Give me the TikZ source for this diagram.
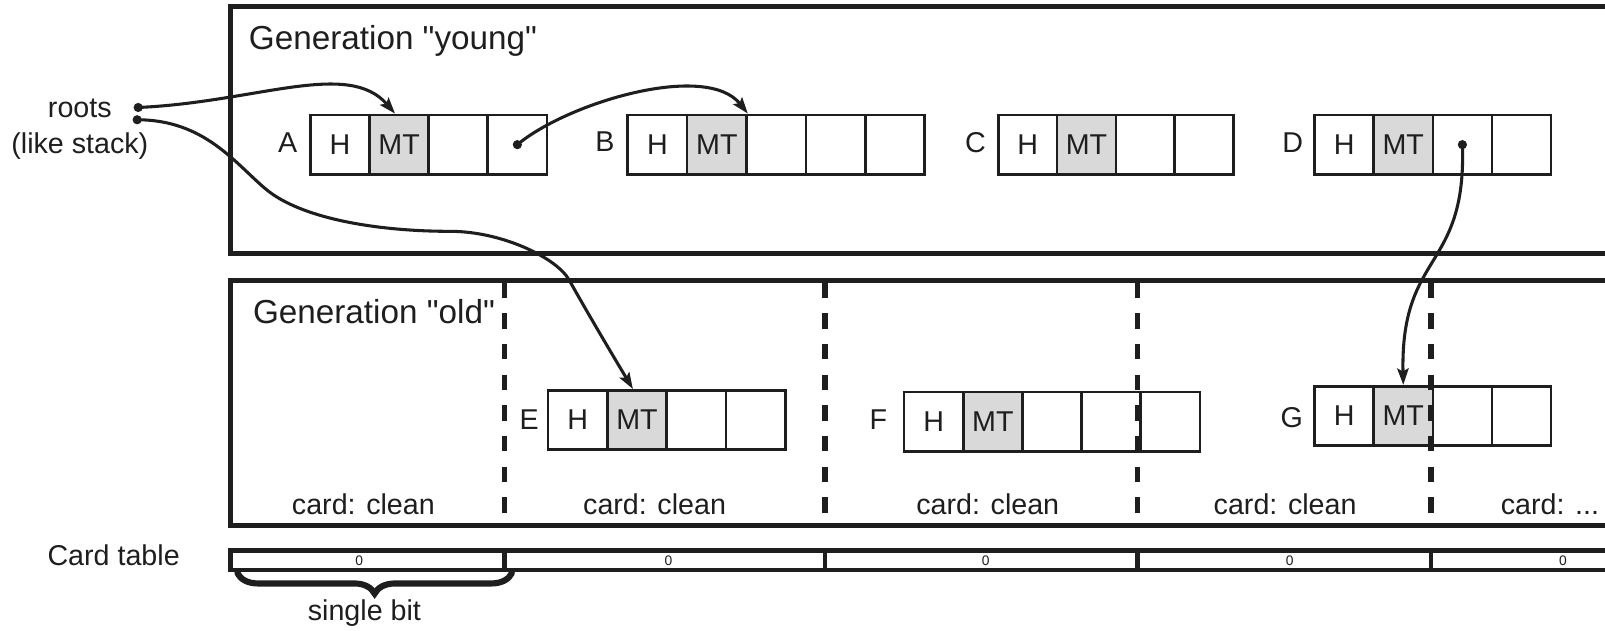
\documentclass[tikz,border=0pt]{standalone}
\usepackage{fontspec}
\setmainfont{Liberation Sans}[Ligatures=TeXOff]
\usetikzlibrary{arrows.meta,decorations.pathreplacing,calc}
\definecolor{ink}{HTML}{1E1E1E}
\definecolor{mtgray}{HTML}{D9D9D9}

% one heap object: name, left x, top y, cell width, number of cells
\newcommand\heapobject[5]{%
  \foreach \i in {1,...,#5}{%
    \ifnum\i=1 \def\celltxt{H}\def\cellsty{cell}%
    \else\ifnum\i=2 \def\celltxt{MT}\def\cellsty{mtcell}%
    \else\def\celltxt{}\def\cellsty{cell}\fi\fi
    \node[\cellsty, minimum width=#4] (#1\i) at ({#2+(\i-1)*#4},#3) {\celltxt};
  }%
}

\begin{document}
\begin{tikzpicture}[x=1pt,y=-1pt,
  every node/.style={text=ink, inner sep=0pt},
  body/.style={font=\fontsize{28}{32}\selectfont},
  title/.style={font=\fontsize{32.5}{38}\selectfont, anchor=base west},
  genframe/.style={draw=ink, line width=5pt},
  cell/.style={draw=ink, line width=2.6pt, fill=white, minimum height=58pt,
    anchor=north west, inner sep=0pt, body},
  mtcell/.style={cell, fill=mtgray},
  objlabel/.style={body, anchor=base},
  cardedge/.style={draw=ink, line width=5pt, dash pattern=on 15pt off 15pt},
  tablerule/.style={draw=ink, line width=4.5pt},
  ptr/.style={draw=ink, line width=3pt, -{Stealth[length=16pt,width=11pt,inset=3pt]}},
  dotmark/.style={fill=ink, circle, minimum size=9pt, inner sep=0pt},
]
\useasboundingbox (0,0) rectangle (1568,616);

% generation frames (open to the right)
\draw[genframe] (225,6) rectangle (1572,248);
\draw[genframe] (225,274) rectangle (1572,513);

\node[title] (young) at (243,48) {Generation "young"};
\node[title] (old) at (247,316) {Generation "old"};

% roots
\node[body, anchor=base] (roots) at (78,115) {roots};
\node[body, anchor=base] (stack) at (78,150) {(like stack)};
\node[dotmark] (r1) at (135,105) {};
\node[dotmark] (r2) at (134,117) {};

% young objects
\heapobject{A}{302}{111}{57.75}{4}
\heapobject{B}{612}{111}{58}{5}
\heapobject{C}{974}{111}{57.4}{4}
\heapobject{D}{1283}{111}{57.75}{4}
\node[objlabel] (Alab) at (281,148.5) {A};
\node[objlabel] (Blab) at (591,148) {B};
\node[objlabel] (Clab) at (953,148.5) {C};
\node[objlabel] (Dlab) at (1263,149) {D};

% old objects
\heapobject{E}{534}{380}{58}{4}
\heapobject{F}{882}{381.5}{57.8}{5}
\heapobject{G}{1283}{376}{57.75}{4}
\node[objlabel] (Elab) at (517,420) {E};
\node[objlabel] (Flab) at (858,420) {F};
\node[objlabel] (Glab) at (1262,418) {G};

% card boundaries
\foreach \x in {493,806,1111,1398}{
  \draw[cardedge] (\x,276) -- (\x,505);
}

\node[body, anchor=base] (c1) at (355,503) {card: clean};
\node[body, anchor=base] (c2) at (639.5,503) {card: clean};
\node[body, anchor=base] (c3) at (965,503) {card: clean};
\node[body, anchor=base] (c4) at (1255.5,503) {card: clean};
\node[body, anchor=base west] (c5) at (1466,503) {card: ...};

% card table
\node[body] (cardtable) at (111,542) {Card table};
\draw[tablerule] (225,538) rectangle (1572,557);
\foreach \x in {493,806,1111,1398}{
  \draw[tablerule] (\x,538) -- (\x,557);
}
\foreach \x/\n in {351/1,653/2,963/3,1260/4,1527/5}{
  \node[font=\fontsize{13.5}{15}\selectfont] (bit\n) at (\x,547.5) {0};
}
\draw[ink, line width=6pt, line cap=round, decorate,
  decoration={brace, mirror, amplitude=20pt}] (232,560) -- (500,560);
\node[body, anchor=base] (singlebit) at (356,606) {single bit};

% pointers
\fill[ink] (A4.center) circle (4.5pt);
\fill[ink] (D3.center) circle (4.5pt);
\draw[ptr] (r1.center) .. controls (250,100) and (340,58) .. ($(A2.north)+(-4,0)$);
\draw[ptr] (r2.center) .. controls (200,117) and (230,160) .. (260,185)
  .. controls (295,214) and (370,226) .. (440,226)
  .. controls (490,226) and (543.7,251.7) .. (556,273.5)
  .. controls (573,304) and (599.5,348.7) .. ($(E2.north)+(-4,0)$);
\draw[ptr] (A4.center) .. controls (555,100) and (690,60) .. (B2.north east);
\draw[ptr] (D3.center) .. controls (1433,265) and (1368,245) .. (G2.north);
\end{tikzpicture}
\end{document}
